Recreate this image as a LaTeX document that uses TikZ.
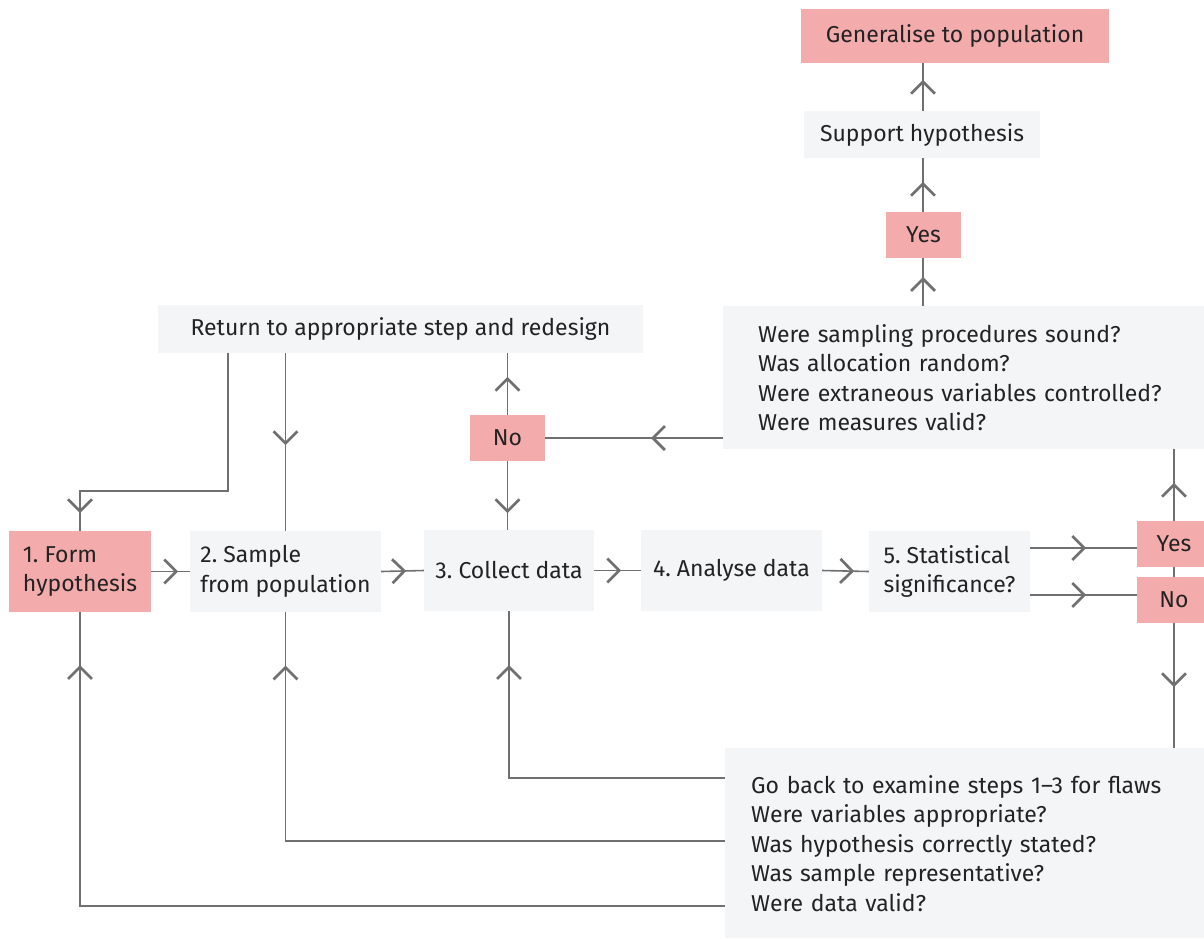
\documentclass[tikz,border=0pt]{standalone}
\usepackage{fontspec}
\setmainfont{Fira Sans}
\usetikzlibrary{arrows.meta,decorations.markings,calc}
\definecolor{pinkbox}{RGB}{244,171,172}
\definecolor{greybox}{RGB}{244,245,247}
\definecolor{linegrey}{RGB}{112,112,112}
\definecolor{txt}{RGB}{35,35,35}
\tikzset{
  chev/.tip={Straight Barb[length=12pt,width=24pt,line width=2.7pt]},
  base/.style={inner sep=0pt, text=txt, font=\fontsize{23}{29.5}\selectfont\frenchspacing},
  gbox/.style={base, fill=greybox},
  pbox/.style={base, fill=pinkbox},
  conn/.style={draw=linegrey, line width=1.6pt},
  tipat/.style={postaction={decorate}, decoration={markings, mark=at position #1 with {\arrow{chev}}}},
}
\begin{document}
\begin{tikzpicture}[x=1pt,y=-1pt]
\fill[white] (0,0) rectangle (1204,938);
\useasboundingbox (0,0) rectangle (1204,938);

% nodes
\node[pbox, minimum width=308, minimum height=54] (gen) at (955,36) {Generalise to population};
\node[gbox, minimum width=236, minimum height=47] (sup) at (922,134.5) {Support hypothesis};
\node[pbox, minimum width=75, minimum height=46] (yes1) at (923.5,235) {Yes};
\node[gbox, minimum height=143, text width=411, inner xsep=35, align=left, anchor=north west] (q1) at (723,306)
  {Were sampling procedures sound?\\Was allocation random?\\Were extraneous variables controlled?\\Were measures valid?};
\node[gbox, minimum width=485, minimum height=48] (ret) at (400.5,329) {Return to appropriate step and redesign};
\node[pbox, minimum width=75, minimum height=46] (no1) at (507.5,438) {No};
\node[pbox, minimum width=142, minimum height=81, align=left] (form) at (80,571.5) {1. Form\\hypothesis};
\node[gbox, minimum width=191, minimum height=81, align=left] (samp) at (285.5,571.5) {2. Sample\\from population};
\node[gbox, minimum width=170, minimum height=81] (coll) at (509,570.5) {3. Collect data};
\node[gbox, minimum width=181, minimum height=81] (anal) at (731.5,570.5) {4. Analyse data};
\node[gbox, minimum width=161, minimum height=81, align=left] (stat) at (949.5,571.5) {5. Statistical\\significance?};
\node[pbox, minimum width=74, minimum height=46] (yes2) at (1174,544) {Yes};
\node[pbox, minimum width=74, minimum height=46] (no2) at (1174,600) {No};
\node[gbox, minimum height=190, text width=427, inner xsep=26, align=left, anchor=north west] (q2) at (725,748)
  {Go back to examine steps 1--3 for flaws\\Were variables appropriate?\\Was hypothesis correctly stated?\\Was sample representative?\\Were data valid?};

% helper coordinates
\coordinate (cx) at (923,0);
\coordinate (r1) at (228,491);
\coordinate (ly) at (0,548);
\coordinate (ln) at (0,595);
\coordinate (b1) at (0,778);
\coordinate (b2) at (0,841);
\coordinate (b3) at (0,906);

% connectors
\draw[conn, tipat=30pt] (yes1.north -| cx) -- (sup.south -| cx);
\draw[conn, tipat=31pt] (sup.north -| cx) -- (gen.south -| cx);
\draw[conn, tipat=29pt] (q1.north -| cx) -- (yes1.south -| cx);
\draw[conn, tipat=72pt] (q1.west |- no1.east) -- (no1.east);
\draw[conn, tipat=38pt] (no1.north) -- (no1.north |- ret.south);
\draw[conn, tipat=52pt] (no1.south) -- (no1.south |- coll.north);
\draw[conn, tipat=308pt] (ret.south -| r1) -- (r1) -| (form.north);
\draw[conn, tipat=92pt] (ret.south -| samp.north) -- (samp.north);
\draw[conn, tipat=27pt] (form.east) -- (samp.west);
\draw[conn, tipat=25pt] (samp.east) -- (coll.west);
\draw[conn, tipat=27pt] (coll.east) -- (anal.west);
\draw[conn, tipat=32pt] (anal.east) -- (stat.west);
\draw[conn, tipat=56pt] (stat.east |- ly) -- (yes2.west |- ly);
\draw[conn, tipat=56pt] (stat.east |- ln) -- (no2.west |- ln);
\draw[conn, tipat=38pt] (yes2.north) -- (yes2.north |- q1.south);
\draw[conn] (yes2.south) -- (no2.north);
\draw[conn, tipat=64pt] (no2.south) -- (no2.south |- q2.north);
\draw[conn, tipat=329pt] (q2.west |- b1) -| (coll.south);
\draw[conn, tipat=615pt] (q2.west |- b2) -| (samp.south);
\draw[conn, tipat=886pt] (q2.west |- b3) -| (form.south);
\end{tikzpicture}
\end{document}
